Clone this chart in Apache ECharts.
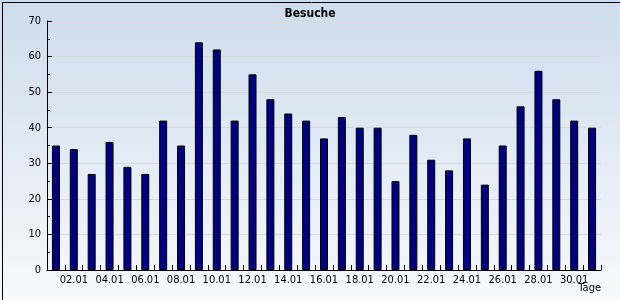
<!DOCTYPE html>
<html><head><meta charset="utf-8">
<script src="https://cdn.jsdelivr.net/npm/echarts@6/dist/echarts.min.js"></script>
<style>html,body{margin:0;padding:0;}#c{width:620px;height:300px;}</style>
</head><body><div id="c"></div>
<script>
var categories = ['01.01','02.01','03.01','04.01','05.01','06.01','07.01','08.01','09.01','10.01','11.01','12.01','13.01','14.01','15.01','16.01','17.01','18.01','19.01','20.01','21.01','22.01','23.01','24.01','25.01','26.01','27.01','28.01','29.01','30.01','31.01'];
var visits = [35,34,27,36,29,27,42,35,64,62,42,55,48,44,42,37,43,40,40,25,38,31,28,37,24,35,46,56,48,42,40];
var yTicks = [0,10,20,30,40,50,60,70];
var titleText = 'Besuche';
var xName = 'Tage';

var chart = echarts.init(document.getElementById('c'), null, {renderer:'canvas'});
var font = 'DejaVu Sans Condensed';
chart.setOption({
  animation: false,
  backgroundColor: new echarts.graphic.LinearGradient(0,0,0,1,[{offset:0,color:'#cddcec'},{offset:1,color:'#f7f9fc'}]),
  title: {text: titleText, left: 'center', top: 3, textStyle:{fontFamily:font, fontSize:12, fontWeight:'bold', color:'#000'}},
  grid: {left:47, right:19, top:21, bottom:30, containLabel:false},
  xAxis: {
    type:'category', data: categories, boundaryGap:true,
    axisLine:{show:true, lineStyle:{color:'#000', width:1}},
    axisTick:{show:true, inside:true, length:5, interval:0, lineStyle:{color:'#000'}},
    axisLabel:{interval:function(i){return i%2===1;}, fontFamily:font, fontSize:11, color:'#000', margin:5}
  },
  yAxis: {
    type:'value', min:yTicks[0], max:yTicks[yTicks.length-1], interval:10,
    axisLine:{show:true, lineStyle:{color:'#000', width:1}},
    axisTick:{show:true, inside:true, length:5, lineStyle:{color:'#000'}},
    minorTick:{show:true, splitNumber:2, length:3, lineStyle:{color:'#000'}},
    axisLabel:{fontFamily:font, fontSize:11, color:'#000', margin:6},
    splitLine:{show:true, lineStyle:{color:'#d9d9d9', width:1}}
  },
  series: [{
    type:'bar', data: visits, barWidth:8,
    itemStyle:{color:'#000080', borderColor:'#000', borderWidth:1}
  }],
  graphic: [
    {type:'text', right:19, top:283, style:{text:xName, font:'11px "'+font+'"', fill:'#000'}},
    {type:'rect', left:0, top:0, shape:{x:0.5,y:0.5,width:618,height:298}, style:{fill:'none', stroke:'#000', lineWidth:1}}
  ]
});
</script></body></html>
